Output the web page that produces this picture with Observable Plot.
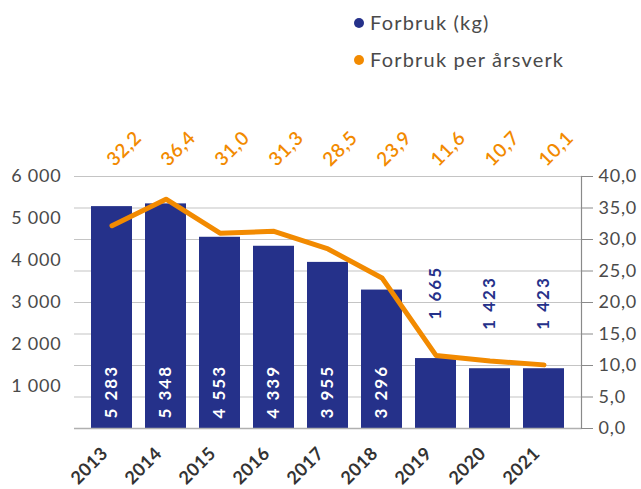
<!DOCTYPE html>
<html><head><meta charset="utf-8">
<script src="https://cdn.jsdelivr.net/npm/d3@7"></script>
<script src="https://cdn.jsdelivr.net/npm/@observablehq/plot@0.6"></script>
<style>
body{margin:0;background:#fff;font-family:Lato,"Open Sans",sans-serif;}
#wrap{position:relative;width:641px;height:489px;}
#legend{position:absolute;left:354px;top:4px;font-size:20px;color:#4a4a4a;line-height:37px;letter-spacing:1.2px;}
#legend .item{display:flex;align-items:center;}
#legend .dot{width:10px;height:10px;border-radius:50%;margin-right:6px;}
</style></head>
<body><div id="wrap"><div id="chart"></div><div id="legend"></div></div>
<script>
const years = ["2013","2014","2015","2016","2017","2018","2019","2020","2021"];
const forbruk = [5283,5348,4553,4339,3955,3296,1665,1423,1423];
const perArsverk = [32.2,36.4,31.0,31.3,28.5,23.9,11.6,10.7,10.1];
const leftTicks = [1000,2000,3000,4000,5000,6000];
const rightTicks = [0,5,10,15,20,25,30,35,40];
const seriesNames = ["Forbruk (kg)","Forbruk per årsverk"];

const navy = "#25318a", orange = "#f28a00", gray = "#4a4a4a";
const k = 6000/40; // right axis mapped onto left scale

const data = years.map((y,i)=>({year:y, kg:forbruk[i], per:perArsverk[i], perScaled:perArsverk[i]*k}));
const big = data.filter(d=>d.kg>=3000), small = data.filter(d=>d.kg<3000);
const fmtKg = d => d3.format(",")(d).replace(/,/g," ");
const fmtDec = d => d.toFixed(1).replace(".",",");

const chart = Plot.plot({
  width:641, height:489,
  marginTop:176, marginBottom:61, marginLeft:74, marginRight:60,
  style:{fontFamily:"Lato, sans-serif", fontSize:"18px", color:gray, background:"#fff"},
  x:{domain:years, padding:0.235, label:null},
  y:{domain:[0,6000], label:null},
  marks:[
    Plot.gridY(rightTicks.filter(d=>d>0).map(d=>d*k), {stroke:"#c4c4c4", strokeOpacity:1, strokeWidth:1.2}),
    Plot.barY(data,{x:"year", y:"kg", fill:navy}),
    Plot.ruleY([0],{stroke:"#b0b0b0", strokeWidth:1.5}),
    Plot.frame({anchor:"right", stroke:"#8a8a8a", strokeWidth:1.2}),
    Plot.axisY(leftTicks,{anchor:"left", tickSize:0, tickPadding:13, tickFormat:fmtKg, fontSize:18, fill:gray}),
    Plot.axisY(rightTicks.map(d=>d*k),{anchor:"right", tickSize:11, tickPadding:6, stroke:"#8a8a8a", tickFormat:d=>fmtDec(d/k), fontSize:18, fill:gray}),
    Plot.axisX({tickSize:0, tickPadding:22, tickRotate:-45, dx:-7, fontSize:18, fontWeight:"bold", fill:"#333"}),
    Plot.line(data,{x:"year", y:"perScaled", stroke:orange, strokeWidth:5, strokeLinecap:"round", strokeLinejoin:"round"}),
    Plot.text(big,{x:"year", y:0, text:d=>fmtKg(d.kg), rotate:-90, textAnchor:"start", dy:-10, fill:"#fff", fontSize:17, fontWeight:"bold"}),
    Plot.text(small,{x:"year", y:"kg", text:d=>fmtKg(d.kg), rotate:-90, textAnchor:"start", dy:-39, fill:navy, fontSize:17, fontWeight:"bold"}),
    Plot.text(data,{x:"year", frameAnchor:"top", text:d=>fmtDec(d.per), rotate:-45, dy:-33, dx:7, fill:orange, fontSize:19, fontWeight:"600"})
  ]
});
document.getElementById("chart").appendChild(chart);

// letter spacing tweaks (style only)
const sel = d3.select(chart);
const textGroups = sel.selectAll('g[aria-label="text"]').nodes();
const spacings = ["2px","2px","0.6px"];
textGroups.forEach((g,i)=>d3.select(g).selectAll("text").style("letter-spacing", spacings[i]));
sel.selectAll('g[aria-label="y-axis tick label"] text').style("letter-spacing","0.8px");
sel.selectAll('g[aria-label="x-axis tick label"] text').style("letter-spacing","0.5px");

const legend = document.getElementById("legend");
[navy, orange].forEach((c,i)=>{
  const it = document.createElement("div"); it.className="item";
  const dot = document.createElement("span"); dot.className="dot"; dot.style.background=c;
  const t = document.createElement("span"); t.textContent = seriesNames[i];
  it.appendChild(dot); it.appendChild(t); legend.appendChild(it);
});
</script>
</body></html>
